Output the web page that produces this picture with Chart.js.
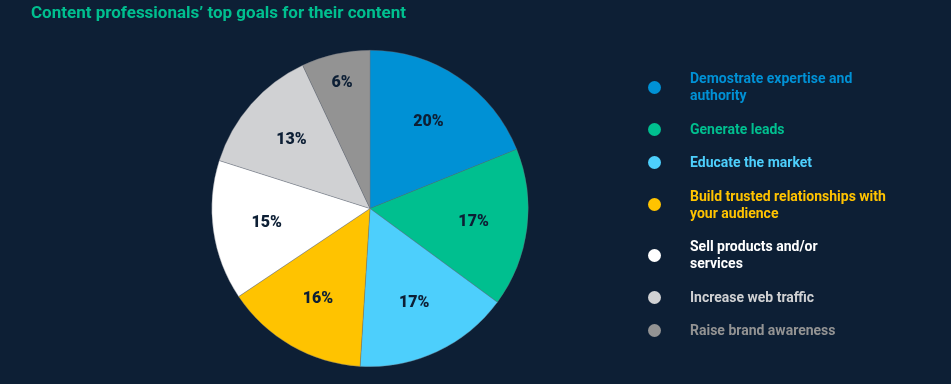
<!DOCTYPE html>
<html>
<head>
<meta charset="utf-8">
<script src="https://cdn.jsdelivr.net/npm/chart.js@4/dist/chart.umd.min.js"></script>
<style>
  html, body { margin: 0; padding: 0; background: #0d1f35; }
  body { width: 951px; height: 384px; position: relative; overflow: hidden; font-family: Roboto, "Noto Sans", sans-serif; }
  #title { position: absolute; left: 31px; top: 2px; margin: 0; font-size: 17px; font-weight: 700; color: #00bf8f; white-space: nowrap; }
  #wrap { position: absolute; left: 0; top: 0; width: 951px; height: 384px; }
  #legend { position: absolute; left: 648px; top: 70px; margin: 0; padding: 0; list-style: none; }
  #legend li { display: flex; align-items: center; margin-bottom: 16.5px; font-size: 14px; font-weight: 700; line-height: 17px; }
  #legend .dot { width: 13px; height: 13px; border-radius: 50%; flex: none; margin-right: 29px; }
</style>
</head>
<body>
<div id="wrap"><canvas id="pieChart"></canvas></div>
<h1 id="title">Content professionals’ top goals for their content</h1>
<ul id="legend"></ul>
<script>
const categories = [
  ["Demostrate expertise and", "authority"],
  ["Generate leads"],
  ["Educate the market"],
  ["Build trusted relationships with", "your audience"],
  ["Sell products and/or", "services"],
  ["Increase web traffic"],
  ["Raise brand awareness"],
];
// printed percentages
const percentLabels = ["20%", "17%", "17%", "16%", "15%", "13%", "6%"];
// slice sizes as drawn in the picture (they don't quite follow the printed numbers)
const sliceShares = [18.9, 16.2, 15.9, 14.6, 14.3, 13.1, 7.0];
const colors = ["#0091d5", "#00bf8f", "#4dcffc", "#ffc300", "#ffffff", "#d0d1d3", "#939393"];

// Legend built from the same arrays

const legend = document.querySelector("#legend");
categories.forEach((lines, i) => {
  const li = document.createElement("li");
  li.style.color = colors[i];
  li.innerHTML = '<span class="dot" style="background:' + colors[i] + '"></span><span>' + lines.join("<br>") + "</span>";
  legend.appendChild(li);
});

// Percent labels inside the slices

const sliceLabels = {
  id: "sliceLabels",
  afterDatasetsDraw(chart) {
    const ctx = chart.ctx;
    const meta = chart.getDatasetMeta(0);
    const total = sliceShares.reduce((a, b) => a + b, 0);
    ctx.save();
    ctx.font = "900 16px Roboto";
    ctx.fillStyle = "#0d1f35";
    ctx.textAlign = "center";
    ctx.textBaseline = "middle";
    meta.data.forEach((arc, i) => {
      const mid = (arc.startAngle + arc.endAngle) / 2;
      const share = sliceShares[i] / total;
      const r = arc.outerRadius * (share < 0.08 ? 0.81 : 0.66);
      ctx.fillText(percentLabels[i], arc.x + Math.cos(mid) * r, arc.y + Math.sin(mid) * r);
    });
    ctx.restore();
  },
};

const ctx = document.getElementById("pieChart").getContext("2d");
const pieChart = new Chart(ctx, {
  type: "pie",
  data: {
    labels: categories.map((l) => l.join(" ")),
    datasets: [
      {
        data: sliceShares,
        backgroundColor: colors,
        borderColor: "rgba(110, 115, 125, 0.6)",
        borderWidth: 0.6,
      },
    ],
  },
  options: {
    responsive: true,
    maintainAspectRatio: false,
    animation: false,
    layout: {
      padding: { left: 211, right: 422, top: 50, bottom: 17 },
    },
    plugins: {
      legend: { display: false },
      tooltip: { enabled: false },
    },
  },
  plugins: [sliceLabels],
});
</script>
</body>
</html>
